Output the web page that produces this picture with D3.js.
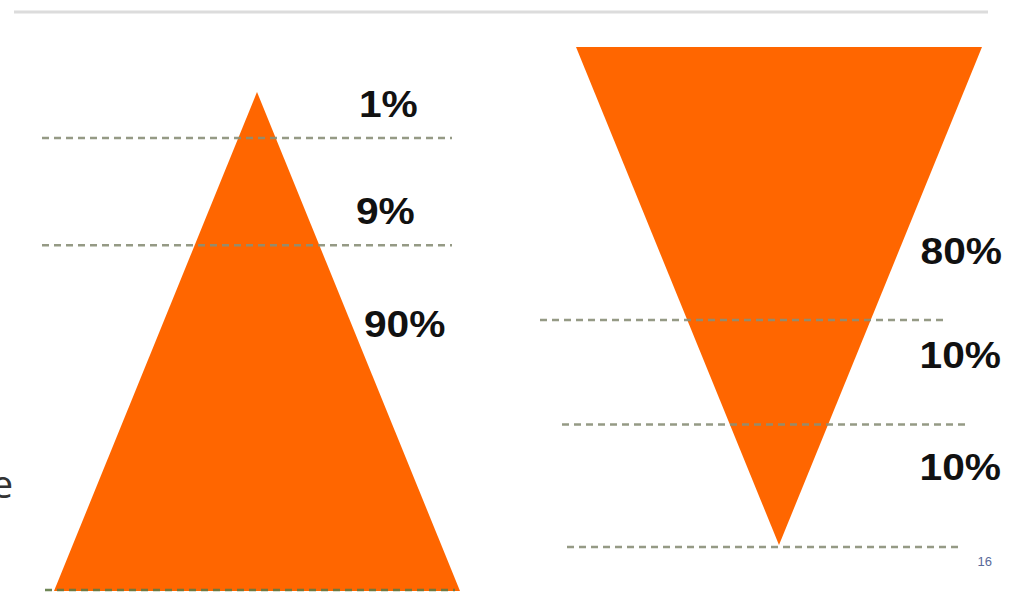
<!DOCTYPE html>
<html>
<head>
<meta charset="utf-8">
<script src="https://cdn.jsdelivr.net/npm/d3@7"></script>
<style>
  body { margin: 0; background: #fff; }
  svg { display: block; }
</style>
</head>
<body>
<svg id="chart"></svg>
<script>
// shares per layer, top to bottom
const leftLabels = ['1%', '9%', '90%'];
const leftShares = [1, 9, 90];
const rightLabels = ['80%', '10%', '10%'];
const rightShares = [80, 10, 10];
const pageNumber = '16';

const W = 1016, H = 592;
const svg = d3.select('#chart').attr('width', W).attr('height', H);

// thin rule at the top of the slide
svg.append('line')
    .attr('x1', 14).attr('x2', 988)
    .attr('y1', 12).attr('y2', 12)
    .attr('stroke', '#dcdcdc')
    .attr('stroke-width', 3);

// cut-off text at left edge
svg.append('text')
    .attr('x', 13).attr('y', 498)
    .attr('text-anchor', 'end')
    .attr('font-family', 'Open Sans, sans-serif')
    .attr('font-size', 38)
    .attr('fill', '#333')
    .text('e');

// Each pyramid: fraction of the height (0 = tip, 1 = wide end) mapped to pixels
function drawPyramid(cfg) {
    const g = svg.append('g');

    // y scale: 0 at the apex, 1 at the base
    const y = d3.scaleLinear().domain([0, 1]).range([cfg.apexY, cfg.baseY]);
    // half-width grows linearly with distance from the apex
    const half = d3.scaleLinear().domain([0, 1]).range([0, cfg.halfBase]);

    const pts = [
        [cfg.cx, y(0)],
        [cfg.cx - half(1), y(1)],
        [cfg.cx + half(1), y(1)]
    ];
    g.append('path')
        .attr('d', d3.line()(pts) + 'Z')
        .attr('fill', '#ff6600');

    // dashed separators
    g.selectAll('line.cut')
        .data(cfg.cuts)
        .join('line')
        .attr('class', 'cut')
        .attr('x1', d => d.x1).attr('x2', d => d.x2)
        .attr('y1', d => y(d.t)).attr('y2', d => y(d.t))
        .attr('stroke', d => d.color || '#8a8f78')
        .attr('stroke-opacity', 0.9)
        .attr('stroke-width', 2.5)
        .attr('stroke-dasharray', '7,5');

    // labels (slightly widened like the original slide font)
    g.selectAll('text.lbl')
        .data(cfg.labels)
        .join('text')
        .attr('class', 'lbl')
        .attr('transform', (d, i) => `translate(${cfg.labelX[i]},${cfg.labelY[i]}) scale(1.1,1)`)
        .attr('text-anchor', cfg.anchor)
        .attr('font-family', 'Liberation Sans, Arial, sans-serif')
        .attr('font-weight', 'bold')
        .attr('font-size', 37)
        .attr('fill', '#111')
        .text(d => d);
}

// left: upright pyramid 1 / 9 / 90
drawPyramid({
    shares: leftShares,
    labels: leftLabels,
    cx: 257, apexY: 92, baseY: 591, halfBase: 203,
    cuts: [
        { t: 0.092, x1: 42, x2: 452 },
        { t: 0.307, x1: 42, x2: 452 },
        { t: 0.998, x1: 45, x2: 455, color: '#5f7a45' }
    ],
    labelX: [359, 356, 364],
    labelY: [117, 224, 337],
    anchor: 'start'
});

// right: inverted pyramid 80 / 10 / 10
drawPyramid({
    shares: rightShares,
    labels: rightLabels,
    cx: 779, apexY: 545, baseY: 47, halfBase: 203,
    cuts: [
        { t: 0.452, x1: 540, x2: 944 },
        { t: 0.242, x1: 562, x2: 966 },
        { t: -0.004, x1: 567, x2: 962 }
    ],
    labelX: [1002, 1001, 1001],
    labelY: [264, 368, 480],
    anchor: 'end'
});

svg.append('text')
    .attr('x', 992).attr('y', 566)
    .attr('text-anchor', 'end')
    .attr('font-family', 'Liberation Sans, Arial, sans-serif')
    .attr('font-size', 13)
    .attr('fill', '#5a6a9a')
    .text(pageNumber);
</script>
</body>
</html>
